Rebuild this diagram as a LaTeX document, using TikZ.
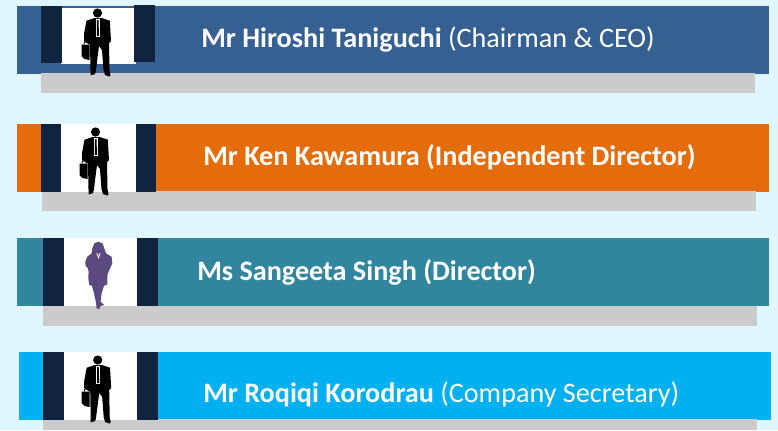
\documentclass[tikz,border=0pt]{standalone}
\usepackage{fontspec}
\setmainfont{Carlito}
\definecolor{skybg}{HTML}{DFF5FF}
\definecolor{bandblue}{HTML}{366092}
\definecolor{bandorange}{HTML}{E46C0A}
\definecolor{bandteal}{HTML}{31859C}
\definecolor{bandcyan}{HTML}{00B0F0}
\definecolor{navy}{HTML}{10243F}
\definecolor{shelf}{HTML}{CBCBCB}
\definecolor{ladypurple}{HTML}{5B4A80}
\tikzset{
	nametext/.style={text=white,inner sep=0pt,anchor=base west,font=\fontsize{21.15}{25}\selectfont},
	man/.pic={
		\fill[black] (0,5) circle (4.6);
		\fill[black] (-11,12.7) -- (-3,10) -- (4,10) -- (12.3,12.7) -- (13.5,33) -- (11.5,35) -- (12,62) -- (13,67) -- (12,68.5) -- (7.5,67) -- (6,62) -- (4.5,42) -- (1.5,38) -- (-1.7,63) -- (-2.5,66) -- (-7,67.5) -- (-7,62) -- (-7.5,36) -- (-9,36) -- (-13.5,33) -- (-13.5,26) -- cycle;
		\fill[black] (-16,36.5) -- (-8,36.5) -- (-8,52) -- (-13,51) -- (-16,48) -- cycle;
		\draw[black,line width=0.6pt] (-13.5,36.5) -- (-13,34) -- (-9,34) -- (-8.5,36.5);
		\fill[white] (-2,11) -- (2.5,11) -- (2.5,28.5) -- (-2,28.5) -- cycle;
		\fill[black] (-0.5,12) -- (1,12) -- (1.5,28) -- (-0.7,28) -- cycle;
	},
	lady/.pic={
		\fill[ladypurple] (0,0) -- (-4,1.7) -- (-6,6.7) -- (-6.7,11.7) -- (-11,15) -- (-13,20) -- (-12.7,24) -- (-10.3,26.7) -- (-9.7,30) -- (-10,36.7) -- (-9,43.3) -- (-6.3,44) -- (-4.3,51.7) -- (-2.3,60.7) -- (-1.7,66.7) -- (1,67.3) -- (2.3,64.3) -- (6,63.3) -- (2.3,60) -- (3.3,51.7) -- (5.7,44) -- (9,42.7) -- (9,33.3) -- (11,28.3) -- (14,21.7) -- (13.3,15) -- (7.7,11.7) -- (6,6.7) -- (4.3,1.7) -- cycle;
		\draw[white,line width=0.6pt] (-1.5,11.5) -- (0.3,16) -- (1.7,11.5);
	}
}

\begin{document}
\begin{tikzpicture}[x=0.75pt,y=-0.75pt]
	\fill[skybg] (0,0) rectangle (778,430);
	\useasboundingbox (0,0) rectangle (778,430);

	% chairman
	\fill[bandblue] (17,6) rectangle (769,74);
	\fill[shelf] (41,73) rectangle (755,93);
	\fill[white] (61,8) rectangle (136,64);
	\fill[navy] (41,6) rectangle (62,63);
	\fill[navy] (134,5) rectangle (155,62);
	\pic at (97.5,8) {man};
	\node[nametext] (hiroshi) at (201,47) {\textbf{Mr Hiroshi Taniguchi} (Chairman \& CEO)};

	% independent director
	\fill[bandorange] (17,124) rectangle (769,192);
	\fill[shelf] (42,191) rectangle (756,211);
	\fill[white] (61,124) rectangle (136,192);
	\fill[navy] (41,124) rectangle (61,192);
	\fill[navy] (136,124) rectangle (156,192);
	\pic at (95.5,127) {man};
	\node[nametext] (ken) at (203,165) {\textbf{Mr Ken Kawamura (Independent Director)}};

	% director
	\fill[bandteal] (17,238) rectangle (769,306);
	\fill[shelf] (43,306) rectangle (757,326);
	\fill[white] (64,238) rectangle (137,306);
	\fill[navy] (43,238) rectangle (64,306);
	\fill[navy] (137,238) rectangle (158,306);
	\pic at (98.3,241.7) {lady};
	\node[nametext] (sangeeta) at (197,280) {\textbf{Ms Sangeeta Singh (Director)}};

	% company secretary
	\fill[bandcyan] (19,352) rectangle (771,420);
	\fill[shelf] (43,419) rectangle (757,430);
	\fill[white] (64,352) rectangle (137,420);
	\fill[navy] (43,352) rectangle (64,420);
	\fill[navy] (137,352) rectangle (158,420);
	\pic at (97.7,355) {man};
	\node[nametext] (roqiqi) at (203,402) {\textbf{Mr Roqiqi Korodrau} (Company Secretary)};
\end{tikzpicture}
\end{document}
